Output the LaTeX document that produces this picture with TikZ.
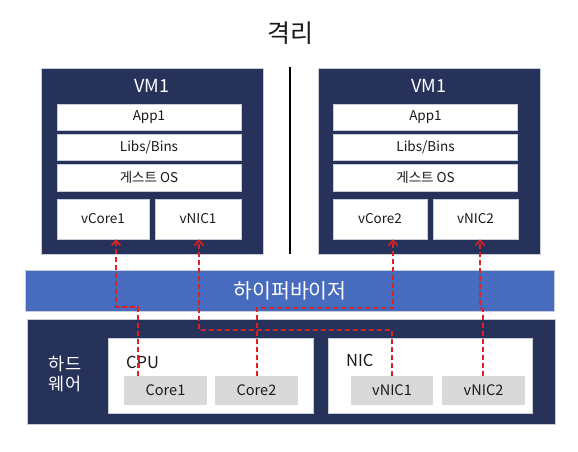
\documentclass[tikz,border=0pt]{standalone}
\usepackage{fontspec}
\setmainfont{Noto Sans CJK KR}
\usetikzlibrary{arrows.meta}
\definecolor{navy}{RGB}{39,50,90}
\definecolor{hvblue}{RGB}{71,107,190}
\definecolor{edge}{RGB}{200,205,218}
\definecolor{graybox}{RGB}{217,217,217}
\definecolor{txt}{RGB}{25,25,25}
\definecolor{dred}{RGB}{224,32,32}
\tikzset{
  vmbox/.style={fill=navy, draw=edge, line width=0.5pt, inner sep=0pt, minimum width=222pt, minimum height=186pt},
  layer/.style={fill=white, draw=edge, line width=0.6pt, inner sep=0pt, minimum width=184pt, minimum height=26pt, text=txt, font=\fontsize{13.5}{15}\selectfont},
  vdev/.style={fill=white, draw=edge, line width=0.6pt, inner sep=0pt, minimum height=40pt, text=txt, font=\fontsize{13.5}{15}\selectfont},
  hwpart/.style={fill=white, draw=edge, line width=0.6pt, inner sep=0pt, minimum width=205pt, minimum height=75pt},
  core/.style={fill=graybox, draw=none, inner sep=0pt, minimum width=83pt, minimum height=29pt, text=txt, font=\fontsize{14.5}{16}\selectfont},
  conn/.style={draw=dred, line width=1.8pt, dash pattern=on 5pt off 3pt},
  tip/.style={-{Straight Barb[length=5pt,width=9pt,line width=1.6pt]}},
}
\begin{document}
\begin{tikzpicture}[x=1pt,y=-1pt]
\useasboundingbox (0,0) rectangle (578,452);
% title
\node[font=\fontsize{25}{28}\selectfont, text=txt] (title) at (290,33) {격리};
% divider
\coordinate (dtop) at (290,67);
\coordinate (dbot) at (290,254);
\draw[line width=2.2pt] (dtop) -- (dbot);
% VM boxes
\node[vmbox] (vmL) at (152,161) {};
\node[vmbox] (vmR) at (429,161) {};
\node[text=white, font=\fontsize{18}{20}\selectfont] (vmLt) at (152,86) {VM1};
\node[text=white, font=\fontsize{18}{20}\selectfont] (vmRt) at (429,86) {VM1};
\node[layer] (appL) at (149,117) {App1};
\node[layer] (libL) at (149,147) {Libs/Bins};
\node[layer, minimum height=27pt] (osL) at (149,177.5) {게스트 OS};
\node[layer] (appR) at (425.5,117) {App1};
\node[layer] (libR) at (425.5,147) {Libs/Bins};
\node[layer, minimum height=27pt] (osR) at (425.5,177.5) {게스트 OS};
\node[vdev, minimum width=92pt] (vcore1) at (103,219) {vCore1};
\node[vdev, minimum width=86pt] (vnic1) at (198,219) {vNIC1};
\node[vdev, minimum width=94pt] (vcore2) at (380,219) {vCore2};
\node[vdev, minimum width=85pt] (vnic2) at (475.5,219) {vNIC2};
% hypervisor
\node[fill=hvblue, draw=edge, line width=0.5pt, inner sep=0pt, minimum width=529pt, minimum height=41pt] (hv) at (289.5,290.5) {};
\node[text=white, font=\fontsize{20.5}{24}\selectfont] (hvt) at (290,291) {하이퍼바이저};
% hardware
\node[fill=navy, draw=edge, line width=0.5pt, inner sep=0pt, minimum width=528pt, minimum height=105pt] (hw) at (291,371.5) {};
\node[text=white, align=center, font=\fontsize{17.5}{20}\selectfont] (hwt) at (65,374) {하드\\웨어};
\node[hwpart] (cpu) at (210.5,375.5) {};
\node[hwpart, minimum width=204pt] (nic) at (430,375.5) {};
\node[anchor=west, inner sep=0pt, text=txt, font=\fontsize{16.5}{19}\selectfont] (cput) at (126,362) {CPU};
\node[anchor=west, inner sep=0pt, text=txt, font=\fontsize{16.5}{19}\selectfont] (nict) at (346,360) {NIC};
\node[core] (hcore1) at (165.5,390.5) {Core1};
\node[core] (hcore2) at (256.5,390.5) {Core2};
\node[core, minimum width=82pt] (hnic1) at (392,390.5) {vNIC1};
\node[core] (hnic2) at (483.5,390.5) {vNIC2};
% connectors
\coordinate (a1) at (138,307);
\coordinate (a2) at (116,307);
\coordinate (b1) at (257,308);
\coordinate (b2) at (393,308);
\coordinate (c1) at (392,330);
\coordinate (c2) at (199,330);
\coordinate (d1) at (483,310);
\coordinate (d2) at (480,307);
\draw[conn, tip] (hcore1.north -| a1) -- (a1) -- (a2) -- (vcore1.south -| a2);
\draw[conn, tip] (hcore2.north -| b1) -- (b1) -- (b2) -- (vcore2.south -| b2);
\draw[conn, tip] (hnic1.north -| c1) -- (c1) -- (c2) -- (vnic1.south -| c2);
\draw[conn, tip] (hnic2.north -| d1) -- (d1) -- (d2) -- (vnic2.south -| d2);
\end{tikzpicture}
\end{document}
